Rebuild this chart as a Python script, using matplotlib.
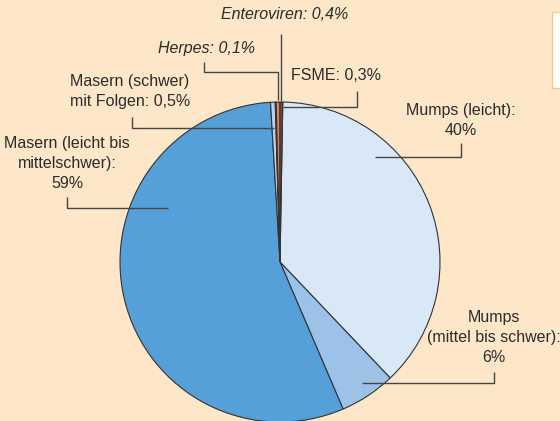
import matplotlib
matplotlib.use("Agg")
import matplotlib.pyplot as plt
from matplotlib import font_manager as fm
from matplotlib.patches import Rectangle

# ---- data (clockwise, starting just right of the top) ----
categories = ["Mumps (leicht)", "Mumps (mittel bis schwer)", "Masern (leicht bis mittelschwer)",
              "Masern (schwer) mit Folgen", "Herpes", "Enteroviren", "FSME"]
values = [40, 6, 59, 0.5, 0.1, 0.4, 0.3]
colors = ["#d9e8f6", "#9cc2e7", "#56a0d9", "#b4d2ee", "#5b2e22", "#ec7a55", "#6b4a40"]

labels_text = [
    "Mumps (leicht):\n40%",
    "Mumps\n(mittel bis schwer):\n6%",
    "Masern (leicht bis\nmittelschwer):\n59%",
    "Masern (schwer)\nmit Folgen: 0,5%",
    "Herpes: 0,1%",
    "Enteroviren: 0,4%",
    "FSME: 0,3%",
]
italic = [False, False, False, False, True, True, False]

W, H = 560, 421
BG = "#fee6c9"

names = {f.name for f in fm.fontManager.ttflist}
fam = "Liberation Sans Narrow" if "Liberation Sans Narrow" in names else "Liberation Sans"

fig = plt.figure(figsize=(W / 100, H / 100), dpi=100, facecolor=BG)
ax = fig.add_axes([0, 0, 1, 1])
ax.set_facecolor(BG)
ax.set_xlim(0, W)
ax.set_ylim(0, H)
ax.set_aspect("equal")
ax.axis("off")

def Y(y):  # pixel-from-top -> axis y
    return H - y

cx, cy, r = 280, 262, 160
ax.pie(values, colors=colors, startangle=89, counterclock=False,
       center=(cx, Y(cy)), radius=r,
       wedgeprops=dict(edgecolor="#333333", linewidth=0.8))
ax.set_xlim(0, W)
ax.set_ylim(0, H)

# white box at top right (partially cut off)
ax.add_patch(Rectangle((552, Y(88)), 20, 76, facecolor="white", edgecolor="#f7c88e", lw=1, zorder=1))

# label positions (center x, top-of-text y) and leader lines, in pixels from top
label_pos = [(461, 103), (494, 310), (67, 136), (130, 74), (207, 41), (285, 7), (336, 68)]
leaders = [
    [(461, 143), (461, 157), (375, 157)],
    [(494, 372), (494, 383), (362, 383)],
    [(67, 197), (67, 208), (168, 208)],
    [(132, 117), (132, 128), (274, 128)],
    [(204, 62), (204, 72), (278, 72), (278, 100)],
    [(281, 34), (281, 101)],
    [(357, 91), (357, 107), (283, 107)],
]

for txt, (x, y), it in zip(labels_text, label_pos, italic):
    ax.text(x, Y(y), txt, ha="center", va="top", fontsize=11.5, family=fam,
            style="italic" if it else "normal", color="#2b2b2b", linespacing=1.42, zorder=5)

for pts in leaders:
    xs = [p[0] for p in pts]
    ys = [Y(p[1]) for p in pts]
    ax.plot(xs, ys, color="#444444", lw=1.0, zorder=4, solid_capstyle="butt")

fig.savefig("out.png", dpi=100, facecolor=BG)
